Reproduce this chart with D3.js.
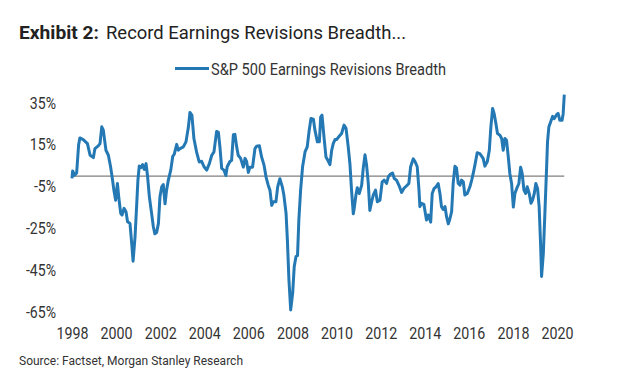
<!DOCTYPE html>
<html>
<head>
<meta charset="utf-8">
<script src="https://cdn.jsdelivr.net/npm/d3@7"></script>
<style>
  html, body { margin: 0; padding: 0; background: #fff; }
  svg { display: block; font-family: Roboto, "Noto Sans", sans-serif; }
</style>
</head>
<body>
<div id="chart"></div>
<script>
// decimal years and breadth in %
var years = [
	1998.00, 1998.03, 1998.12, 1998.21, 1998.30, 1998.36, 1998.51, 1998.70, 1998.82, 1998.97,
	1999.04, 1999.19, 1999.27, 1999.35, 1999.42, 1999.54, 1999.65, 1999.75, 1999.84, 1999.90,
	1999.98, 2000.06, 2000.12, 2000.21, 2000.27, 2000.36, 2000.45, 2000.52, 2000.63, 2000.72,
	2000.77, 2000.86, 2000.93, 2000.99, 2001.05, 2001.13, 2001.20, 2001.28, 2001.36, 2001.43,
	2001.51, 2001.61, 2001.69, 2001.76, 2001.84, 2001.92, 2001.99, 2002.07, 2002.14, 2002.22,
	2002.29, 2002.37, 2002.48, 2002.57, 2002.64, 2002.75, 2002.82, 2002.90, 2003.05, 2003.17,
	2003.28, 2003.35, 2003.44, 2003.53, 2003.65, 2003.77, 2003.88, 2003.99, 2004.11, 2004.23,
	2004.34, 2004.44, 2004.56, 2004.64, 2004.71, 2004.79, 2004.89, 2004.98, 2005.04, 2005.17,
	2005.24, 2005.32, 2005.39, 2005.47, 2005.54, 2005.65, 2005.77, 2005.85, 2005.92, 2006.00,
	2006.07, 2006.19, 2006.30, 2006.37, 2006.50, 2006.60, 2006.71, 2006.80, 2006.90, 2006.98,
	2007.06, 2007.13, 2007.25, 2007.33, 2007.43, 2007.54, 2007.61, 2007.71, 2007.77, 2007.84,
	2007.92, 2008.01, 2008.08, 2008.16, 2008.23, 2008.29, 2008.37, 2008.46, 2008.57, 2008.67,
	2008.76, 2008.84, 2008.95, 2009.02, 2009.13, 2009.22, 2009.28, 2009.34, 2009.43, 2009.52,
	2009.63, 2009.70, 2009.78, 2009.85, 2009.93, 2010.00, 2010.12, 2010.23, 2010.34, 2010.43,
	2010.53, 2010.61, 2010.68, 2010.76, 2010.80, 2010.88, 2010.94, 2011.03, 2011.14, 2011.21,
	2011.29, 2011.36, 2011.44, 2011.51, 2011.59, 2011.67, 2011.77, 2011.85, 2011.97, 2012.07,
	2012.16, 2012.27, 2012.35, 2012.45, 2012.54, 2012.62, 2012.72, 2012.84, 2012.95, 2013.06,
	2013.18, 2013.28, 2013.36, 2013.48, 2013.56, 2013.66, 2013.74, 2013.78, 2013.86, 2013.96,
	2014.08, 2014.16, 2014.27, 2014.34, 2014.42, 2014.51, 2014.61, 2014.69, 2014.76, 2014.84,
	2014.92, 2014.99, 2015.07, 2015.14, 2015.22, 2015.29, 2015.37, 2015.44, 2015.52, 2015.60,
	2015.67, 2015.75, 2015.82, 2015.93, 2016.05, 2016.13, 2016.20, 2016.28, 2016.38, 2016.50,
	2016.65, 2016.73, 2016.84, 2016.93, 2017.00, 2017.08, 2017.15, 2017.23, 2017.30, 2017.41,
	2017.49, 2017.56, 2017.64, 2017.71, 2017.79, 2017.86, 2017.94, 2018.02, 2018.09, 2018.17,
	2018.27, 2018.35, 2018.42, 2018.50, 2018.58, 2018.65, 2018.74, 2018.82, 2018.89, 2018.97,
	2019.04, 2019.12, 2019.19, 2019.26, 2019.30, 2019.38, 2019.45, 2019.53, 2019.57, 2019.63,
	2019.71, 2019.80, 2019.87, 2019.98, 2020.05, 2020.13, 2020.23, 2020.28, 2020.33
];
var breadth = [
	-1.1, 2.5, 0.5, 1.5, 15, 18.3, 17.5, 15.6, 10, 8.9,
	13.2, 14.5, 15.6, 23.6, 22, 12.4, 10, 4.5, -1.9, -6.7,
	-11.5, -3.5, -9.9, -17.8, -18.6, -15.4, -17, -21.8, -22.6, -33.7,
	-40.7, -29, -14.6, -1.9, 4.8, 4.1, 5.5, 3.2, 6.0, -0.3,
	-9.9, -17.8, -24.2, -27.6, -27, -22.6, -9.9, -5.1, -4, -13.2,
	-6.7, -1.9, 2.9, 9.5, 10.5, 15.2, 12.4, 13.2, 14, 16.4,
	23.5, 30.5, 29.1, 18, 11.6, 6.8, 7.1, 4.5, 2.9, 6,
	10, 11.6, 21.4, 21, 14, 3.7, 2.9, 0.3, 4.5, 7.1,
	7.5, 19.8, 20, 14, 10, 8.5, 4.3, 8.5, 7, 1.8,
	4.3, 4.3, 13.2, 14.3, 14.5, 9.2, 5.3, -0.3, -4.3, -6.7,
	-14, -12.3, -12.3, -5.1, -1.2, -5.1, -9, -17.8, -30.5, -49.6,
	-64, -56, -43.3, -38.5, -38, -21, -6.7, 4.5, 11.6, 14,
	22, 27.6, 27.3, 22, 16.4, 16.4, 28.3, 29.2, 18.8, 9.2,
	7.1, 5.5, 12.4, 15.6, 17.5, 17.5, 19.1, 20.4, 24.4, 22.9,
	14, 5.5, -6.7, -18, -15.5, -9, -5.5, -8.3, -4.3, 3.7,
	10.2, 5.5, -3.5, -16.4, -12.3, -9, -6.7, -12.3, -11.5, -2.7,
	-1.9, -3.5, -0.3, 1, 1.5, -1.1, -1.9, -4.6, -7.8, -5.8,
	-4.6, -3.5, 4.5, 8.3, 7, 4.5, -6.7, -14.6, -13, -13.5,
	-21, -18.6, -22, -8.3, -6, -5.1, -3.5, -8.3, -14.6, -16,
	-14.5, -19.4, -22.8, -20.5, -17, -3.5, 4.7, 4, -3.5, -4.3,
	-1.9, -2.7, -9, -8.3, -5.1, -1.9, 1.3, 5.5, 11.2, 10.8,
	8.5, 4.8, 7, 12.4, 23.5, 32.4, 29.9, 25.1, 20.4, 19.6,
	18, 12.4, 18, 17.2, 9.2, 1.3, -3.5, -14.8, -8.3, -6,
	-3.5, 4.3, 1.3, -6.7, -8.3, -5.1, -8.3, -13, -11.5, -8.3,
	-3.5, -6, -14.6, -33.7, -48, -37, -17.8, 4.5, 16.4, 23.5,
	25.9, 28.6, 27.5, 29.4, 30, 26.7, 26.7, 29.9, 39
];
var y_ticks = [35, 15, -5, -25, -45, -65];
var x_ticks = [1998, 2000, 2002, 2004, 2006, 2008, 2010, 2012, 2014, 2016, 2018, 2020];

var chart_width = 632;
var chart_height = 377;
var line_color = '#2479b5';

var svg = d3.select('#chart')
	.append('svg')
	.attr('width', chart_width)
	.attr('height', chart_height);

// scales
var x_scale = d3.scaleLinear()
	.domain([1998, 2020])
	.range([72, 557]);
var y_scale = d3.scaleLinear()
	.domain([-65, 35])
	.range([312, 103]);

// squeeze a text to a given width (the original uses a condensed face)
function fit(sel, w) {
	sel.attr('textLength', w).attr('lengthAdjust', 'spacingAndGlyphs');
}
function condense(sel, k) {
	sel.each(function () {
		var n = this.getComputedTextLength();
		d3.select(this).attr('textLength', n * k).attr('lengthAdjust', 'spacingAndGlyphs');
	});
}

// title
svg.append('text')
	.attr('x', 19)
	.attr('y', 38.5)
	.attr('fill', '#222')
	.style('font-size', '19px')
	.style('font-weight', 'bold')
	.text('Exhibit 2:')
	.call(fit, 80);
svg.append('text')
	.attr('x', 106)
	.attr('y', 38.5)
	.attr('fill', '#222')
	.style('font-size', '19px')
	.text('Record Earnings Revisions Breadth...')
	.call(fit, 300);

// legend
svg.append('line')
	.attr('x1', 175).attr('x2', 209)
	.attr('y1', 68.5).attr('y2', 68.5)
	.attr('stroke', line_color)
	.attr('stroke-width', 3);
svg.append('text')
	.attr('x', 211)
	.attr('y', 75)
	.attr('fill', '#333')
	.style('font-size', '16.5px')
	.text('S&P 500 Earnings Revisions Breadth')
	.call(fit, 235);

// y axis
var y_axis = d3.axisLeft(y_scale)
	.tickValues(y_ticks)
	.tickSize(0)
	.tickPadding(0)
	.tickFormat(function (d) { return d + '%'; });
var gy = svg.append('g')
	.attr('transform', 'translate(56,0)')
	.call(y_axis);
gy.select('.domain').remove();
gy.selectAll('text')
	.attr('fill', '#333')
	.style('font-size', '16px')
	.style('font-family', 'Roboto, sans-serif')
	.call(condense, 0.88);

// x axis
var x_axis = d3.axisBottom(x_scale)
	.tickValues(x_ticks)
	.tickSize(0)
	.tickPadding(0)
	.tickFormat(d3.format('d'));
var gx = svg.append('g')
	.attr('transform', 'translate(0,328)')
	.call(x_axis);
gx.select('.domain').remove();
gx.selectAll('text')
	.attr('fill', '#333')
	.style('font-size', '16px')
	.style('font-family', 'Roboto, sans-serif')
	.call(condense, 0.89);

// zero line
svg.append('line')
	.attr('x1', x_scale(years[0]))
	.attr('x2', x_scale(years[years.length - 1]))
	.attr('y1', y_scale(0))
	.attr('y2', y_scale(0))
	.attr('stroke', '#7f7f7f')
	.attr('stroke-width', 1.2);

// the series
var line = d3.line()
	.x(function (d, i) { return x_scale(years[i]); })
	.y(function (d) { return y_scale(d); });
svg.append('path')
	.datum(breadth)
	.attr('d', line)
	.attr('fill', 'none')
	.attr('stroke', line_color)
	.attr('stroke-width', 3)
	.attr('stroke-linejoin', 'round');

// source
svg.append('text')
	.attr('x', 19)
	.attr('y', 365)
	.attr('fill', '#333')
	.style('font-size', '12px')
	.text('Source: Factset, Morgan Stanley Research')
	.call(fit, 224);
</script>
</body>
</html>
